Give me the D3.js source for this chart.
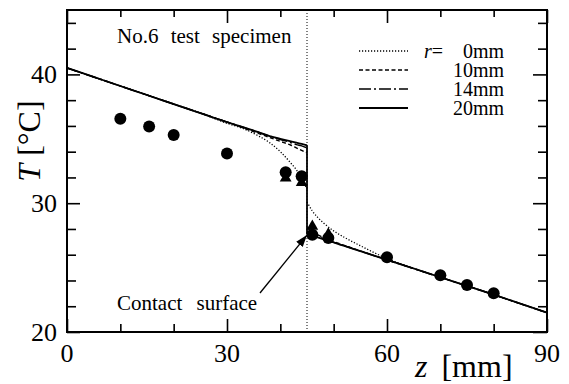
<!DOCTYPE html>
<html>
<head>
<meta charset="utf-8">
<script src="https://cdn.jsdelivr.net/npm/d3@7"></script>
</head>
<body style="margin:0;background:#fff">
<svg id="chart" width="569" height="384"></svg>
<script>
// data
const zLeft  = [0, 5, 10, 15, 20, 25, 30, 33, 36, 38, 40, 42, 43, 44, 45];
const zRight = [45, 46, 47, 48, 50, 52, 55, 60, 65, 70, 75, 80, 85, 90];

const r20Left  = [40.5, 39.8, 39.1, 38.4, 37.7, 37.0, 36.3, 35.9, 35.5, 35.2, 35.0, 34.8, 34.7, 34.6, 34.5];
const r14Left  = [40.5, 39.8, 39.1, 38.4, 37.7, 37.0, 36.3, 35.9, 35.5, 35.2, 34.95, 34.7, 34.55, 34.45, 34.3];
const r10Left  = [40.5, 39.8, 39.1, 38.4, 37.7, 37.0, 36.3, 35.85, 35.4, 35.1, 34.8, 34.5, 34.3, 34.1, 33.9];
const r0Left   = [40.5, 39.8, 39.1, 38.4, 37.7, 37.0, 36.2, 35.8, 35.2, 34.7, 34.0, 33.1, 32.6, 31.9, 31.1];

const r20Right = [27.6, 27.47, 27.34, 27.21, 26.95, 26.68, 26.28, 25.6, 24.93, 24.25, 23.58, 22.9, 22.2, 21.5];
const r14Right = [27.8, 27.6, 27.42, 27.26, 26.97, 26.69, 26.28, 25.6, 24.93, 24.25, 23.58, 22.9, 22.2, 21.5];
const r10Right = [28.1, 27.8, 27.55, 27.35, 27.02, 26.72, 26.3, 25.6, 24.93, 24.25, 23.58, 22.9, 22.2, 21.5];
const r0Right  = [30.1, 29.4, 28.9, 28.5, 27.85, 27.35, 26.7, 25.7, 24.95, 24.25, 23.58, 22.9, 22.2, 21.5];

const circleZ = [10, 15.4, 20, 30, 41, 44, 46, 49, 60, 70, 75, 80];
const circleT = [36.55, 35.95, 35.3, 33.85, 32.4, 32.1, 27.55, 27.3, 25.8, 24.4, 23.65, 23.0];
const triZ = [41, 44, 46, 49];
const triT = [31.95, 31.6, 28.2, 27.6];

const legendLabels = ['0mm', '10mm', '14mm', '20mm'];
const xTicksMajor = [0, 30, 60, 90];
const yTicksMajor = [20, 30, 40];

const contactZ = 45;
const serif = '"Liberation Serif", "Times New Roman", serif';

const svg = d3.select('#chart').style('font-family', serif);
const margin = {left: 67, right: 22, top: 10, bottom: 52};
const W = 569, H = 384;

const x = d3.scaleLinear().domain([0, 90]).range([margin.left, W - margin.right]);
const y = d3.scaleLinear().domain([20, 45]).range([H - margin.bottom, margin.top]);

const styles = [
  {left: r0Left, right: r0Right, dash: '1.2,1.8', width: 1.3},
  {left: r10Left, right: r10Right, dash: '4,2.5', width: 1.4},
  {left: r14Left, right: r14Right, dash: '12,3,2,3', width: 1.5},
  {left: r20Left, right: r20Right, dash: null, width: 1.8}
];

// contact surface line
svg.append('line')
  .attr('x1', x(contactZ)).attr('x2', x(contactZ))
  .attr('y1', y(45)).attr('y2', y(20))
  .attr('stroke', '#000').attr('stroke-width', 1)
  .attr('stroke-dasharray', '1,2');

const line = d3.line().x(d => x(d[0])).y(d => y(d[1])).curve(d3.curveMonotoneX);

styles.forEach(s => {
  const g = svg.append('g')
    .attr('fill', 'none').attr('stroke', '#000')
    .attr('stroke-width', s.width)
    .attr('stroke-dasharray', s.dash);
  g.append('path').attr('d', line(zLeft.map((z, i) => [z, s.left[i]])));
  g.append('path').attr('d', line(zRight.map((z, i) => [z, s.right[i]])));
  if (!s.dash) {
    g.append('line')
      .attr('x1', x(contactZ)).attr('x2', x(contactZ))
      .attr('y1', y(s.left[s.left.length - 1])).attr('y2', y(s.right[0]));
  }
});

// markers
svg.append('g').selectAll('path')
  .data(triZ.map((z, i) => [z, triT[i]]))
  .join('path')
  .attr('d', d3.symbol().type(d3.symbolTriangle).size(60))
  .attr('transform', d => `translate(${x(d[0])},${y(d[1])})`)
  .attr('fill', '#000');

svg.append('g').selectAll('circle')
  .data(circleZ.map((z, i) => [z, circleT[i]]))
  .join('circle')
  .attr('cx', d => x(d[0])).attr('cy', d => y(d[1]))
  .attr('r', 6).attr('fill', '#000');

// axes: ticks inward on all four sides
const xMinor = d3.range(0, 91, 10).filter(v => !xTicksMajor.includes(v));
const yMinor = d3.range(20, 45, 2).filter(v => !yTicksMajor.includes(v));

function tickGroup(axis, tf) {
  const g = svg.append('g').attr('transform', tf).call(axis);
  g.select('.domain').remove();
  g.selectAll('line').attr('stroke', '#000').attr('stroke-width', 1.6);
  return g;
}
const yb = H - margin.bottom, xr = W - margin.right;

tickGroup(d3.axisBottom(x).tickValues(xMinor).tickSize(-8).tickFormat(''), `translate(0,${yb})`);
tickGroup(d3.axisBottom(x).tickValues(xTicksMajor).tickSize(-13).tickFormat(''), `translate(0,${yb})`);
tickGroup(d3.axisTop(x).tickValues(xMinor).tickSize(-7).tickFormat(''), `translate(0,${margin.top})`);
tickGroup(d3.axisTop(x).tickValues(xTicksMajor).tickSize(-13).tickFormat(''), `translate(0,${margin.top})`);
tickGroup(d3.axisLeft(y).tickValues(yMinor).tickSize(-9).tickFormat(''), `translate(${margin.left},0)`);
tickGroup(d3.axisLeft(y).tickValues(yTicksMajor).tickSize(-13).tickFormat(''), `translate(${margin.left},0)`);
tickGroup(d3.axisRight(y).tickValues(yMinor).tickSize(-9).tickFormat(''), `translate(${xr},0)`);
tickGroup(d3.axisRight(y).tickValues(yTicksMajor).tickSize(-14).tickFormat(''), `translate(${xr},0)`);

svg.append('rect')
  .attr('x', margin.left).attr('y', margin.top)
  .attr('width', xr - margin.left).attr('height', yb - margin.top)
  .attr('fill', 'none').attr('stroke', '#000').attr('stroke-width', 2);

// all text gets the serif face explicitly
function txt(sel) {
  return sel.append('text').style('font-family', serif).attr('fill', '#000');
}

// tick labels
xTicksMajor.forEach(d => {
  txt(svg).attr('x', x(d)).attr('y', yb + 30)
    .attr('text-anchor', 'middle').attr('font-size', 26).text(d);
});
yTicksMajor.forEach(d => {
  txt(svg).attr('x', margin.left - 10).attr('y', y(d) + 8.5)
    .attr('text-anchor', 'end').attr('font-size', 26).text(d);
});

// axis titles
const yt = txt(svg)
  .attr('transform', `translate(40,${(margin.top + yb) / 2 - 30}) rotate(-90)`)
  .attr('text-anchor', 'middle').attr('font-size', 32);
yt.append('tspan').attr('font-style', 'italic').text('T');
yt.append('tspan').text(' [°C]');

const xt = txt(svg).attr('x', 415).attr('y', 377).attr('font-size', 32);
xt.append('tspan').attr('font-style', 'italic').text('z');
xt.append('tspan').attr('dx', 14).text('[mm]');

// annotations
txt(svg).attr('x', 117).attr('y', 43).attr('font-size', 21)
  .attr('word-spacing', 7).text('No.6 test specimen');

txt(svg).attr('x', 117).attr('y', 310).attr('font-size', 21)
  .attr('word-spacing', 9).text('Contact surface');

svg.append('defs').append('marker')
  .attr('id', 'arrow').attr('viewBox', '0 0 10 10')
  .attr('refX', 10).attr('refY', 5)
  .attr('markerWidth', 12).attr('markerHeight', 12)
  .attr('markerUnits', 'userSpaceOnUse')
  .attr('orient', 'auto')
  .append('path').attr('d', 'M0,1.5 L10,5 L0,8.5 Z').attr('fill', '#000');

svg.append('line')
  .attr('x1', 260).attr('y1', 293)
  .attr('x2', x(contactZ)).attr('y2', y(r20Right[0]) + 1)
  .attr('stroke', '#000').attr('stroke-width', 1.3)
  .attr('marker-end', 'url(#arrow)');

// legend
const lg = svg.append('g');
const rowY = [51, 70, 89, 108];
styles.forEach((s, i) => {
  lg.append('line')
    .attr('x1', 359).attr('x2', 408)
    .attr('y1', rowY[i]).attr('y2', rowY[i])
    .attr('stroke', '#000').attr('stroke-width', s.width)
    .attr('stroke-dasharray', s.dash);
  txt(lg).attr('x', 504).attr('y', rowY[i] + 7)
    .attr('text-anchor', 'end').attr('font-size', 20)
    .text(legendLabels[i]);
});
const rl = txt(lg).attr('x', 424).attr('y', rowY[0] + 7).attr('font-size', 20);
rl.append('tspan').attr('font-style', 'italic').text('r');
rl.append('tspan').text('=');
</script>
</body>
</html>
